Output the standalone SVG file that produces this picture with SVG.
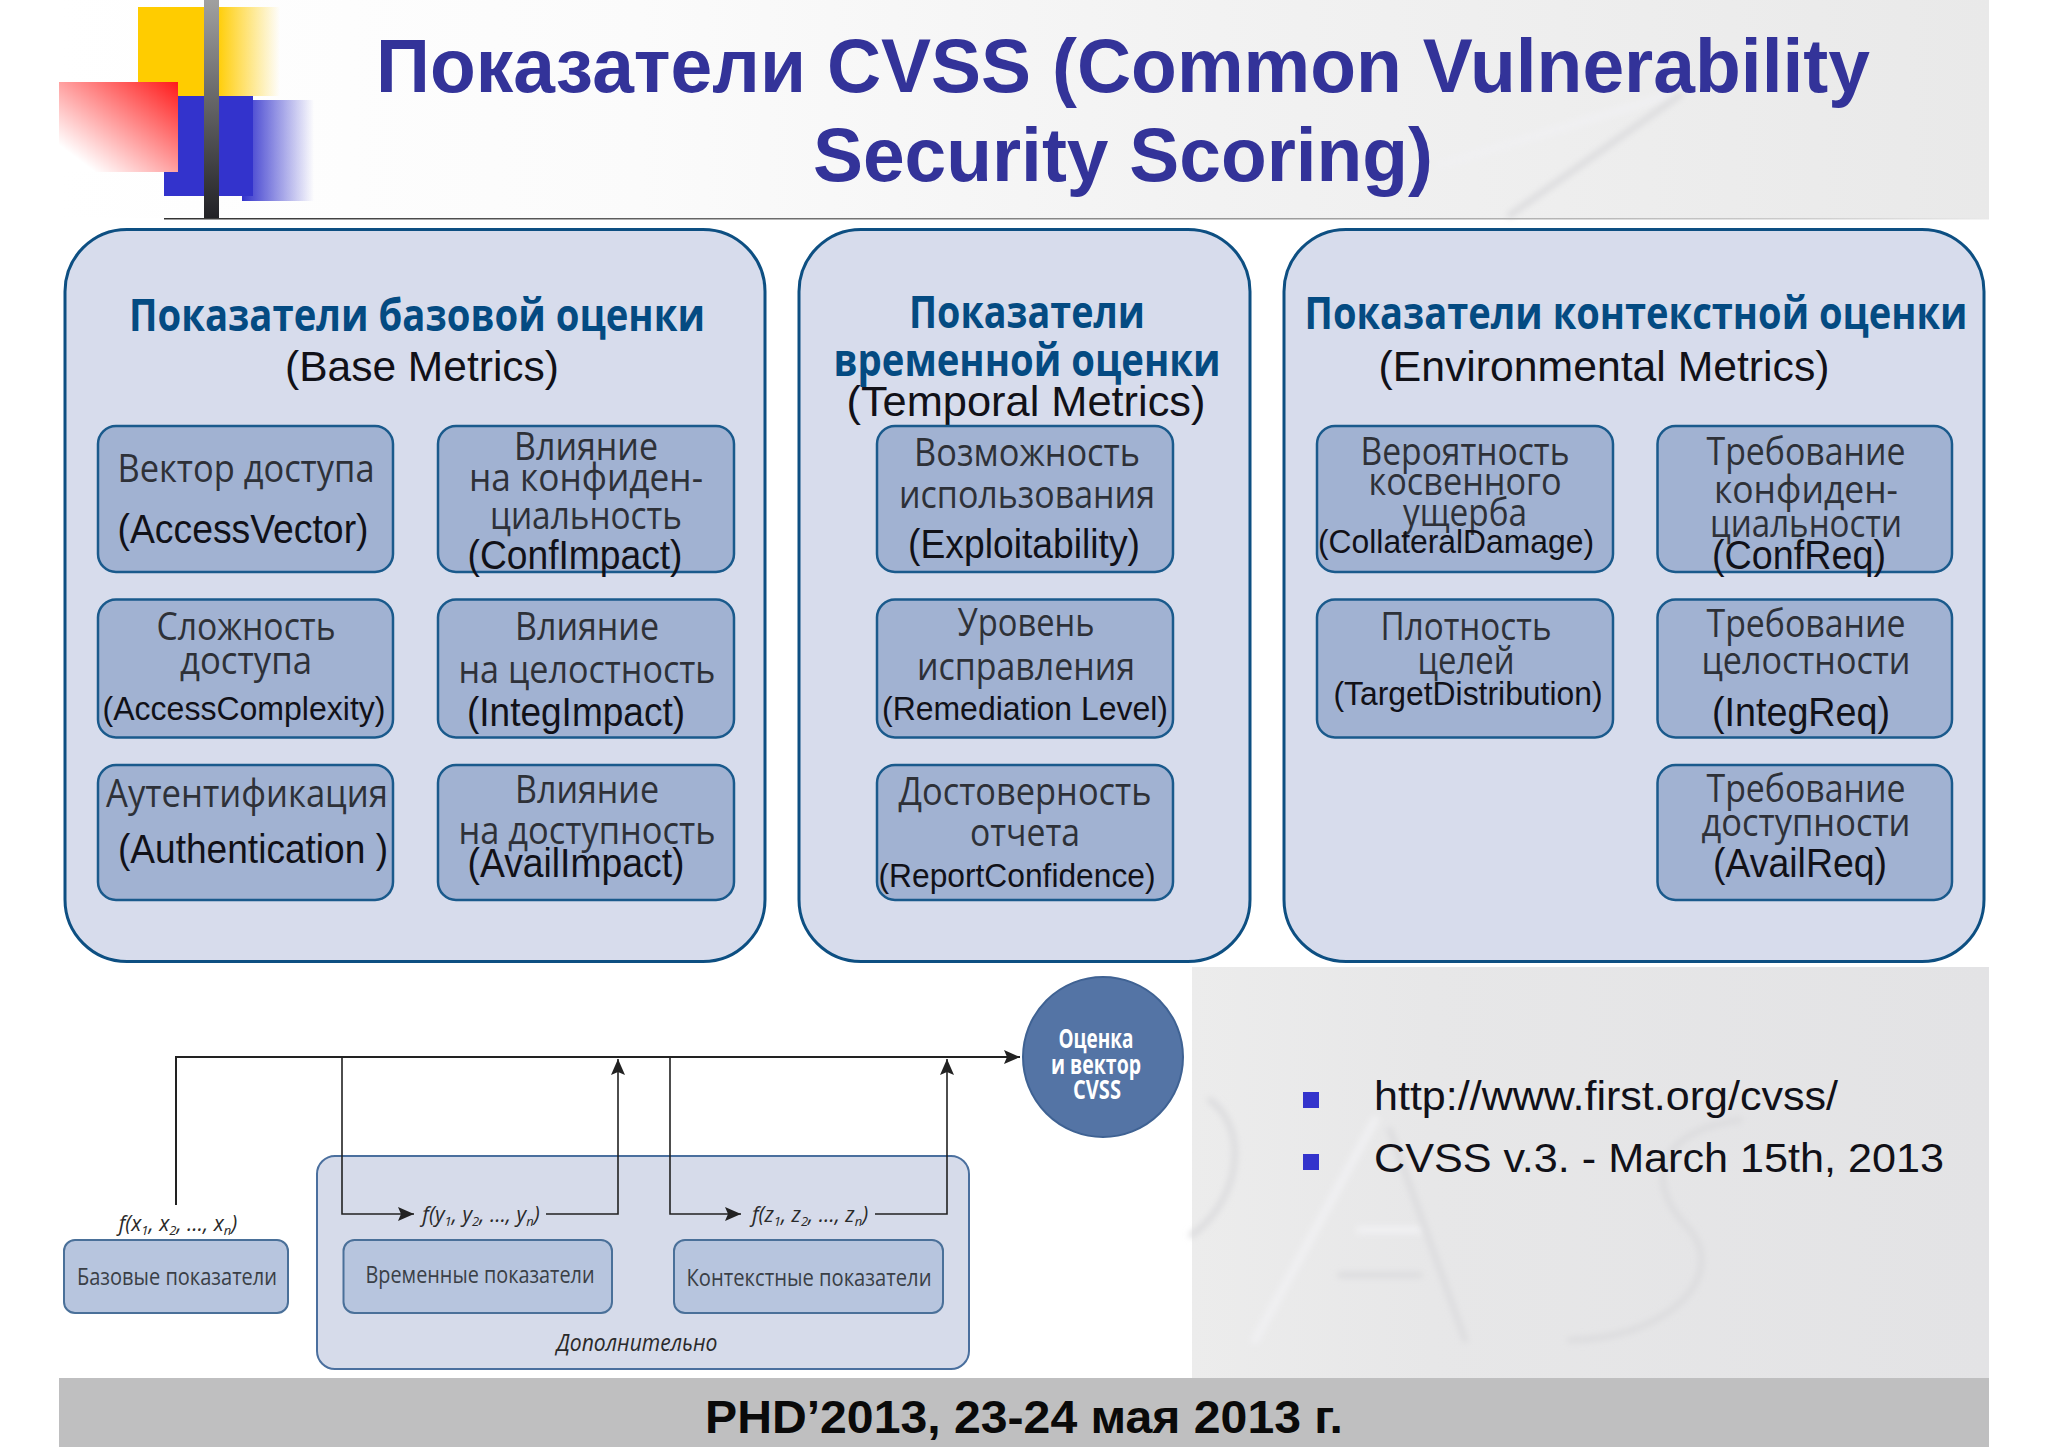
<svg xmlns="http://www.w3.org/2000/svg" width="2048" height="1448" viewBox="0 0 2048 1448">
<defs>
<linearGradient id="hdr" x1="0" y1="0" x2="1" y2="0"><stop offset="0" stop-color="#ffffff"/><stop offset="0.3" stop-color="#fbfbfb"/><stop offset="0.6" stop-color="#f2f2f2"/><stop offset="1" stop-color="#e9e9e9"/></linearGradient>
<linearGradient id="low" x1="0" y1="0" x2="1" y2="0"><stop offset="0" stop-color="#ececec"/><stop offset="0.3" stop-color="#e7e7e8"/><stop offset="1" stop-color="#e3e3e5"/></linearGradient>
<linearGradient id="yel" x1="0" y1="0" x2="1" y2="0"><stop offset="0" stop-color="#ffcc00"/><stop offset="0.55" stop-color="#ffcc00"/><stop offset="1" stop-color="#ffcc00" stop-opacity="0"/></linearGradient>
<linearGradient id="red" x1="1" y1="0" x2="0" y2="1"><stop offset="0" stop-color="#ff1a1a"/><stop offset="0.85" stop-color="#ff1a1a" stop-opacity="0"/></linearGradient>
<linearGradient id="blu" x1="0" y1="0" x2="1" y2="0"><stop offset="0" stop-color="#3333cc"/><stop offset="1" stop-color="#3333cc" stop-opacity="0"/></linearGradient>
<linearGradient id="bar" x1="0" y1="0" x2="0" y2="1"><stop offset="0" stop-color="#a0a0a0"/><stop offset="1" stop-color="#222226"/></linearGradient>
<linearGradient id="rule" x1="0" y1="0" x2="1" y2="0"><stop offset="0" stop-color="#333333"/><stop offset="0.9" stop-color="#cccccc"/><stop offset="1" stop-color="#e9e9e9"/></linearGradient>
<filter id="soft" x="-10%" y="-10%" width="120%" height="120%"><feGaussianBlur stdDeviation="3"/></filter>
<marker id="ah" viewBox="0 0 16 14" markerWidth="16" markerHeight="14" refX="16" refY="7" orient="auto" markerUnits="userSpaceOnUse"><path d="M0 0L16 7L0 14L3 7Z" fill="#222"/></marker>
</defs>
<style>
.t{font-family:"Liberation Sans",Arial,sans-serif;font-size:41px;fill:#111118;text-anchor:middle}
.s{font-size:33px}
.n{font-family:"Open Sans","Noto Sans",sans-serif;font-size:38px;fill:#2e3138;text-anchor:middle}
.h{font-family:"Open Sans","Noto Sans",sans-serif;font-weight:700;font-size:44px;fill:#044b82;text-anchor:middle}
.panel{fill:#d7dcec;stroke:#0d4f82;stroke-width:3}
.box{fill:#a1b2d2;stroke:#1a5a8c;stroke-width:2.5}
.lbox{fill:#b7c5de;stroke:#4a7099;stroke-width:2}
.ln{font-family:"Open Sans","Noto Sans",sans-serif;font-size:24px;fill:#3a3f46;text-anchor:middle}
.f{font-family:"Open Sans","Noto Sans",sans-serif;font-style:italic;font-size:21px;fill:#2a2a2a;text-anchor:middle}
.f tspan.b{font-size:13px}
.c{font-family:"Open Sans","Noto Sans",sans-serif;font-weight:700;font-size:26px;fill:#ffffff;text-anchor:middle}
.ttl{font-family:"Liberation Sans",Arial,sans-serif;font-weight:700;font-size:76px;fill:#333399;text-anchor:middle}
.li{font-family:"Liberation Sans",Arial,sans-serif;font-size:41px;fill:#111118}
.cn{fill:none;stroke:#222;stroke-width:1.6}
.wm{fill:none;stroke:#f0f0f2;stroke-width:8;stroke-linecap:round;stroke-linejoin:round;filter:url(#soft)}
.wd{fill:none;stroke:#dcdcde;stroke-width:6;stroke-linecap:round;stroke-linejoin:round;filter:url(#soft)}
</style>
<rect width="2048" height="1448" fill="#ffffff"/>
<g id="background">
<rect x="59" y="0" width="1930" height="218" fill="url(#hdr)"/>
<path class="wm" d="M1440 165L1670 95"/>
<path class="wd" d="M1510 215L1680 95"/>
<rect x="1192" y="967" width="797" height="411" fill="url(#low)"/>
<path class="wm" d="M1255 1340L1375 1120M1360 1230H1420"/>
<path class="wd" d="M1390 1130L1465 1340M1340 1275H1420M1192 1235C1240 1200 1250 1130 1210 1100M1740 1120C1660 1130 1640 1180 1690 1230C1730 1280 1660 1340 1570 1340"/>
<rect x="59" y="1378" width="1930" height="69" fill="#bfbfc0"/>
</g>
<g id="logo">
<rect x="138" y="7" width="142" height="89" fill="url(#yel)"/>
<rect x="164" y="96" width="89" height="100" fill="#3333cc"/>
<rect x="242" y="100" width="72" height="101" fill="url(#blu)"/>
<rect x="59" y="82" width="119" height="90" fill="#ffffff"/>
<rect x="59" y="82" width="119" height="90" fill="url(#red)"/>
<rect x="204" y="0" width="15" height="218" fill="url(#bar)"/>
<rect x="164" y="218" width="1825" height="1.5" fill="url(#rule)"/>
</g>
<g id="title">
<text class="ttl" x="1123" y="92" textLength="1494" lengthAdjust="spacingAndGlyphs">Показатели CVSS (Common Vulnerability</text>
<text class="ttl" x="1123" y="181" textLength="620" lengthAdjust="spacingAndGlyphs">Security Scoring)</text>
</g>
<g id="panel-base">
<rect class="panel" x="65" y="229.5" width="700" height="732" rx="62"/>
<text class="h" x="417" y="331" textLength="576" lengthAdjust="spacingAndGlyphs">Показатели базовой оценки</text>
<text class="t" x="422" y="381" textLength="274" lengthAdjust="spacingAndGlyphs" style="font-size:42.5px">(Base Metrics)</text>
</g>
<g id="node-access-vector"><rect class="box" x="98" y="426" width="295" height="146" rx="18"/>
<text class="n" x="246" y="482" textLength="257" lengthAdjust="spacingAndGlyphs">Вектор доступа</text>
<text class="t" x="243" y="543" textLength="251" lengthAdjust="spacingAndGlyphs">(AccessVector)</text></g>
<g id="node-conf-impact"><rect class="box" x="438" y="426" width="296" height="146" rx="18"/>
<text class="n" x="586" y="460" textLength="144" lengthAdjust="spacingAndGlyphs">Влияние</text>
<text class="n" x="586" y="491" textLength="234" lengthAdjust="spacingAndGlyphs">на конфиден-</text>
<text class="n" x="586" y="529" textLength="192" lengthAdjust="spacingAndGlyphs">циальность</text>
<text class="t" x="575" y="569" textLength="215" lengthAdjust="spacingAndGlyphs">(ConfImpact)</text></g>
<g id="node-access-complexity"><rect class="box" x="98" y="599.5" width="295" height="138" rx="18"/>
<text class="n" x="246" y="640" textLength="179" lengthAdjust="spacingAndGlyphs">Сложность</text>
<text class="n" x="246" y="674" textLength="132" lengthAdjust="spacingAndGlyphs">доступа</text>
<text class="t s" x="244" y="720" textLength="283" lengthAdjust="spacingAndGlyphs">(AccessComplexity)</text></g>
<g id="node-integ-impact"><rect class="box" x="438" y="599.5" width="296" height="138" rx="18"/>
<text class="n" x="587" y="640" textLength="144" lengthAdjust="spacingAndGlyphs">Влияние</text>
<text class="n" x="587" y="683" textLength="257" lengthAdjust="spacingAndGlyphs">на целостность</text>
<text class="t" x="576" y="726" textLength="218" lengthAdjust="spacingAndGlyphs">(IntegImpact)</text></g>
<g id="node-authentication"><rect class="box" x="98" y="765" width="295" height="135" rx="18"/>
<text class="n" x="247" y="807" textLength="282" lengthAdjust="spacingAndGlyphs">Аутентификация</text>
<text class="t" x="253" y="863" textLength="270" lengthAdjust="spacingAndGlyphs">(Authentication )</text></g>
<g id="node-avail-impact"><rect class="box" x="438" y="765" width="296" height="135" rx="18"/>
<text class="n" x="587" y="803" textLength="144" lengthAdjust="spacingAndGlyphs">Влияние</text>
<text class="n" x="587" y="844" textLength="257" lengthAdjust="spacingAndGlyphs">на доступность</text>
<text class="t" x="576" y="877" textLength="217" lengthAdjust="spacingAndGlyphs">(AvailImpact)</text></g>
<g id="panel-temporal">
<rect class="panel" x="799" y="229.5" width="451" height="732" rx="62"/>
<text class="h" x="1027" y="328" textLength="236" lengthAdjust="spacingAndGlyphs">Показатели</text>
<text class="h" x="1027" y="376" textLength="387" lengthAdjust="spacingAndGlyphs">временной оценки</text>
<text class="t" x="1026" y="416" textLength="359" lengthAdjust="spacingAndGlyphs" style="font-size:42.5px">(Temporal Metrics)</text>
</g>
<g id="node-exploitability"><rect class="box" x="877" y="426" width="296" height="146" rx="18"/>
<text class="n" x="1027" y="466" textLength="226" lengthAdjust="spacingAndGlyphs">Возможность</text>
<text class="n" x="1027" y="508" textLength="256" lengthAdjust="spacingAndGlyphs">использования</text>
<text class="t" x="1024" y="558" textLength="232" lengthAdjust="spacingAndGlyphs">(Exploitability)</text></g>
<g id="node-remediation"><rect class="box" x="877" y="599.5" width="296" height="138" rx="18"/>
<text class="n" x="1026" y="636" textLength="137" lengthAdjust="spacingAndGlyphs">Уровень</text>
<text class="n" x="1026" y="680" textLength="218" lengthAdjust="spacingAndGlyphs">исправления</text>
<text class="t s" x="1025" y="720" textLength="286" lengthAdjust="spacingAndGlyphs">(Remediation Level)</text></g>
<g id="node-report-confidence"><rect class="box" x="877" y="765" width="296" height="135" rx="18"/>
<text class="n" x="1025" y="805" textLength="253" lengthAdjust="spacingAndGlyphs">Достоверность</text>
<text class="n" x="1025" y="846" textLength="110" lengthAdjust="spacingAndGlyphs">отчета</text>
<text class="t s" x="1017" y="887" textLength="277" lengthAdjust="spacingAndGlyphs">(ReportConfidence)</text></g>
<g id="panel-environmental">
<rect class="panel" x="1284" y="229.5" width="700" height="732" rx="62"/>
<text class="h" x="1636" y="329" textLength="663" lengthAdjust="spacingAndGlyphs">Показатели контекстной оценки</text>
<text class="t" x="1604" y="381" textLength="451" lengthAdjust="spacingAndGlyphs" style="font-size:42.5px">(Environmental Metrics)</text>
</g>
<g id="node-collateral"><rect class="box" x="1317" y="426" width="296" height="146" rx="18"/>
<text class="n" x="1465" y="465" textLength="209" lengthAdjust="spacingAndGlyphs">Вероятность</text>
<text class="n" x="1465" y="495" textLength="193" lengthAdjust="spacingAndGlyphs">косвенного</text>
<text class="n" x="1465" y="526" textLength="124" lengthAdjust="spacingAndGlyphs">ущерба</text>
<text class="t s" x="1456" y="553" textLength="276" lengthAdjust="spacingAndGlyphs">(CollateralDamage)</text></g>
<g id="node-conf-req"><rect class="box" x="1657.500" y="426" width="294.500" height="146" rx="18"/>
<text class="n" x="1806" y="465" textLength="199" lengthAdjust="spacingAndGlyphs">Требование</text>
<text class="n" x="1806" y="503" textLength="184" lengthAdjust="spacingAndGlyphs">конфиден-</text>
<text class="n" x="1806" y="537" textLength="192" lengthAdjust="spacingAndGlyphs">циальности</text>
<text class="t" x="1799" y="569" textLength="174" lengthAdjust="spacingAndGlyphs">(ConfReq)</text></g>
<g id="node-target"><rect class="box" x="1317" y="599.5" width="296" height="138" rx="18"/>
<text class="n" x="1466" y="640" textLength="171" lengthAdjust="spacingAndGlyphs">Плотность</text>
<text class="n" x="1466" y="674" textLength="97" lengthAdjust="spacingAndGlyphs">целей</text>
<text class="t s" x="1468" y="705" textLength="269" lengthAdjust="spacingAndGlyphs">(TargetDistribution)</text></g>
<g id="node-integ-req"><rect class="box" x="1657.500" y="599.5" width="294.500" height="138" rx="18"/>
<text class="n" x="1806" y="637" textLength="199" lengthAdjust="spacingAndGlyphs">Требование</text>
<text class="n" x="1806" y="674" textLength="209" lengthAdjust="spacingAndGlyphs">целостности</text>
<text class="t" x="1801" y="726" textLength="178" lengthAdjust="spacingAndGlyphs">(IntegReq)</text></g>
<g id="node-avail-req"><rect class="box" x="1657.500" y="765" width="294.500" height="135" rx="18"/>
<text class="n" x="1806" y="802" textLength="199" lengthAdjust="spacingAndGlyphs">Требование</text>
<text class="n" x="1806" y="836" textLength="209" lengthAdjust="spacingAndGlyphs">доступности</text>
<text class="t" x="1800" y="877" textLength="174" lengthAdjust="spacingAndGlyphs">(AvailReq)</text></g>
<g id="node-optional"><rect x="317" y="1156" width="652" height="213" rx="18" fill="#d6dbea" stroke="#4a6f9e" stroke-width="2"/>
<text class="f" x="637" y="1351" textLength="161" lengthAdjust="spacingAndGlyphs" style="font-size:23px">Дополнительно</text></g>
<g id="node-base-lower"><rect class="lbox" x="64" y="1240" width="224" height="73" rx="11"/>
<text class="ln" x="177" y="1285" textLength="200" lengthAdjust="spacingAndGlyphs">Базовые показатели</text></g>
<g id="node-temporal-lower"><rect class="lbox" x="343.500" y="1240" width="268.500" height="73" rx="11"/>
<text class="ln" x="480" y="1283" textLength="229" lengthAdjust="spacingAndGlyphs">Временные показатели</text></g>
<g id="node-env-lower"><rect class="lbox" x="674" y="1240" width="269" height="73" rx="11"/>
<text class="ln" x="809" y="1286" textLength="245" lengthAdjust="spacingAndGlyphs">Контекстные показатели</text></g>
<g id="node-score"><circle cx="1103" cy="1057" r="80" fill="#5474a5" stroke="#3f6293" stroke-width="2"/>
<text class="c" x="1096" y="1048" textLength="75" lengthAdjust="spacingAndGlyphs">Оценка</text>
<text class="c" x="1096" y="1074" textLength="90" lengthAdjust="spacingAndGlyphs">и вектор</text>
<text class="c" x="1097" y="1099" textLength="48" lengthAdjust="spacingAndGlyphs">CVSS</text></g>
<g id="connectors">
<path class="cn" style="stroke-width:2" d="M176 1205V1057H1020" marker-end="url(#ah)"/>
<path class="cn" d="M342 1057V1214H414" marker-end="url(#ah)"/>
<path class="cn" d="M546 1214H618V1059" marker-end="url(#ah)"/>
<path class="cn" d="M670 1057V1214H741" marker-end="url(#ah)"/>
<path class="cn" d="M875 1214H947V1059" marker-end="url(#ah)"/>
</g>
<g id="formulas">
<text class="f" x="178" y="1231">f(x<tspan class="b" dy="4">1</tspan><tspan dy="-4">, x</tspan><tspan class="b" dy="4">2</tspan><tspan dy="-4">, …, x</tspan><tspan class="b" dy="4">n</tspan><tspan dy="-4">)</tspan></text>
<text class="f" x="481" y="1222">f(y<tspan class="b" dy="4">1</tspan><tspan dy="-4">, y</tspan><tspan class="b" dy="4">2</tspan><tspan dy="-4">, …, y</tspan><tspan class="b" dy="4">n</tspan><tspan dy="-4">)</tspan></text>
<text class="f" x="810" y="1222">f(z<tspan class="b" dy="4">1</tspan><tspan dy="-4">, z</tspan><tspan class="b" dy="4">2</tspan><tspan dy="-4">, …, z</tspan><tspan class="b" dy="4">n</tspan><tspan dy="-4">)</tspan></text>
</g>
<g id="bullets">
<rect x="1303" y="1092" width="16" height="16" fill="#3333cc"/>
<rect x="1303" y="1154" width="16" height="16" fill="#3333cc"/>
<text class="li" x="1374" y="1110" textLength="464" lengthAdjust="spacingAndGlyphs">http://www.first.org/cvss/</text>
<text class="li" x="1374" y="1172" textLength="570" lengthAdjust="spacingAndGlyphs">CVSS v.3. - March 15th, 2013</text>
</g>
<g id="footer">
<text x="1024" y="1433" text-anchor="middle" font-family="'Liberation Sans',Arial,sans-serif" font-weight="700" font-size="46" fill="#0a0a0a" textLength="638" lengthAdjust="spacingAndGlyphs">PHD’2013, 23-24 мая 2013 г.</text>
</g>
</svg>
